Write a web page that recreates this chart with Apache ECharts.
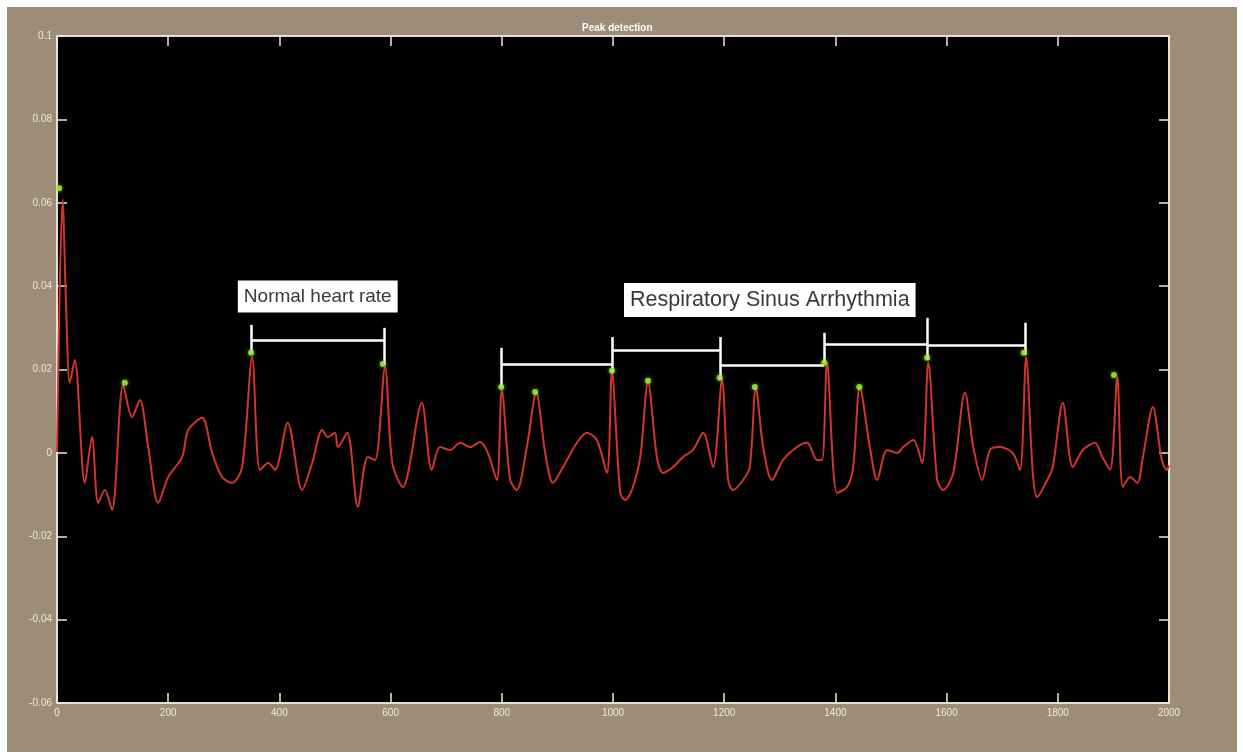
<!DOCTYPE html>
<html>
<head>
<meta charset="utf-8">
<title>Peak detection</title>
<script src="https://cdn.jsdelivr.net/npm/echarts@6/dist/echarts.min.js"></script>
<style>
	html, body { margin: 0; padding: 0; background: #fff; }
	#wrap { position: relative; width: 1243px; height: 755px; background: #fff; }
	#main { position: absolute; left: 7px; top: 7px; width: 1230px; height: 745px; background: #9c8c78; }
</style>
</head>
<body>
<div id="wrap"><div id="main"></div></div>
<script>
// signal (sample index, amplitude)
var sampleX = [0, 5, 10, 16, 23, 32, 50, 63, 74, 86, 99, 119, 135, 149, 164, 182, 200, 225, 236, 261,
	279, 297, 315, 333, 351, 365, 380, 392, 415, 441, 459, 477, 487, 500, 505, 522, 541, 559, 572, 590,
	603, 622, 656, 674, 689, 707, 725, 743, 761, 775, 791, 800, 815, 827, 845, 862, 878, 892, 910, 935,
	953, 971, 989, 998, 1013, 1022, 1034, 1049, 1063, 1079, 1090, 1108, 1126, 1144, 1162, 1180, 1196, 1207, 1216, 1234,
	1246, 1257, 1270, 1286, 1306, 1331, 1349, 1367, 1376, 1385, 1403, 1421, 1432, 1444, 1462, 1475, 1493, 1511, 1522, 1540,
	1556, 1567, 1583, 1594, 1612, 1633, 1648, 1664, 1678, 1696, 1719, 1732, 1743, 1755, 1763, 1781, 1791, 1809, 1827, 1845,
	1867, 1880, 1894, 1907, 1917, 1930, 1943, 1953, 1971, 1987, 1996, 2000];
var signalY = [0.0002, 0.040, 0.0607, 0.0367, 0.0168, 0.0223, -0.0072, 0.0038, -0.0120, -0.0089, -0.0137, 0.0163, 0.0086, 0.0127, 0.0014, -0.0120, -0.0058, -0.0010, 0.0055, 0.0084,
	0, -0.0058, -0.0072, -0.0034, 0.0230, -0.0041, -0.0024, -0.0041, 0.0072, -0.0089, -0.0024, 0.0055, 0.0038, 0.0048, 0.0014, 0.0048, -0.0129, -0.0010, -0.0017, 0.0206,
	-0.0024, -0.0082, 0.0120, -0.0041, 0.0014, 0.0007, 0.0024, 0.0014, 0.0026, 0, -0.0065, 0.0151, -0.0065, -0.0089, 0.0014, 0.0144, 0, -0.0072, -0.0034, 0.0024,
	0.0048, 0.0031, -0.0048, 0.0192, -0.0096, -0.0113, -0.0089, -0.0010, 0.0170, -0.0010, -0.0048, -0.0034, -0.0010, 0.0007, 0.0048, -0.0034, 0.0175, -0.0065, -0.0089, -0.0065,
	-0.0034, 0.0156, 0.0014, -0.0065, -0.0017, 0.0014, 0.0024, -0.0017, -0.0017, 0.0216, -0.0096, -0.0082, -0.0034, 0.0158, 0.0014, -0.0065, 0.0007, 0, 0.0014, 0.0031,
	-0.0024, 0.0216, -0.0065, -0.0089, -0.0048, 0.0144, 0.0014, -0.0065, 0.0007, 0.0014, 0, -0.0041, 0.0230, -0.0048, -0.0106, -0.0065, -0.0034, 0.0120, -0.0034, 0.0007,
	0.0024, -0.0010, -0.0041, 0.0182, -0.0082, -0.0058, -0.0072, -0.0010, 0.0110, -0.0017, -0.0041, -0.0030];

// detected peaks (green markers)
var peakX = [4, 122, 349, 586, 799, 860, 998, 1063, 1192, 1255, 1380, 1443, 1565, 1739, 1901];
var peakY = [0.0635, 0.0168, 0.0240, 0.0213, 0.0158, 0.0146, 0.0197, 0.0173, 0.0180, 0.0158, 0.0216, 0.0158, 0.0228, 0.0240, 0.0187];

// axis ticks
var xTicks = [0, 200, 400, 600, 800, 1000, 1200, 1400, 1600, 1800, 2000];
var yTicks = [-0.06, -0.04, -0.02, 0, 0.02, 0.04, 0.06, 0.08, 0.1];

// annotation brackets: vertical bars [x, top, bottom] and spans [x1, x2, y]
var bracketBars = [[349, 0.0307, 0.0240], [588, 0.0300, 0.0211],
	[799, 0.0252, 0.0156], [998, 0.0278, 0.0194], [1192, 0.0278, 0.0175],
	[1380, 0.0288, 0.0216], [1565, 0.0324, 0.0223], [1741, 0.0312, 0.0235]];
var bracketSpans = [[349, 588, 0.0271],
	[799, 998, 0.0213], [998, 1192, 0.0245], [1192, 1380, 0.0211],
	[1380, 1565, 0.0261], [1565, 1741, 0.0257]];

// annotation labels [text, x, y]
var notes = [['Normal heart rate', 469, 0.0375], ['Respiratory Sinus Arrhythmia', 1282, 0.0367]];

var axisCol = '#efe9da';
var chart = echarts.init(document.getElementById('main'));

var lineData = [];
sampleX.forEach(function (x, i) {
	lineData.push([x, signalY[i]]);
});
var peakData = [];
peakX.forEach(function (x, i) {
	peakData.push([x, peakY[i]]);
});

var markLines = [];
bracketBars.forEach(function (b) {
	markLines.push([{ coord: [b[0], b[1]] }, { coord: [b[0], b[2]] }]);
});
bracketSpans.forEach(function (s) {
	markLines.push([{ coord: [s[0], s[2]] }, { coord: [s[1], s[2]] }]);
});

// the second box in the picture uses a slightly larger type
var noteFont = [19, 21.5];
var notePad = [[7, 6, 6, 6], [6, 6, 6, 6]];
var markPoints = [];
notes.forEach(function (n, i) {
	markPoints.push({
		coord: [n[1], n[2]],
		symbol: 'rect',
		symbolSize: 1,
		itemStyle: { color: 'rgba(0,0,0,0)' },
		label: {
			show: true,
			position: 'inside',
			formatter: n[0],
			color: '#3a3a3a',
			fontSize: noteFont[i],
			fontFamily: 'Liberation Sans, Arial, sans-serif',
			backgroundColor: '#fff',
			padding: notePad[i]
		}
	});
});

function xAxisDef(pos, showLabel) {
	return {
		type: 'value',
		position: pos,
		min: xTicks[0],
		max: xTicks[xTicks.length - 1],
		interval: 200,
		axisLine: { show: true, onZero: false, lineStyle: { color: axisCol, width: 1.5 } },
		axisTick: { show: true, inside: true, length: 10, lineStyle: { color: axisCol, width: 1.5 } },
		axisLabel: {
			show: showLabel, color: axisCol, fontSize: 10, margin: 5,
			fontFamily: 'Liberation Sans, Arial, sans-serif',
			formatter: function (v) {
				return String(v);
			}
		},
		splitLine: { show: false }
	};
}

function yAxisDef(pos, showLabel) {
	return {
		type: 'value',
		position: pos,
		min: yTicks[0],
		max: yTicks[yTicks.length - 1],
		interval: 0.02,
		axisLine: { show: true, onZero: false, lineStyle: { color: axisCol, width: 1.5 } },
		axisTick: { show: true, inside: true, length: 10, lineStyle: { color: axisCol, width: 1.5 } },
		axisLabel: {
			show: showLabel, color: axisCol, fontSize: 10, margin: 5,
			fontFamily: 'Liberation Sans, Arial, sans-serif',
			formatter: function (v) {
				return String(Math.round(v * 100) / 100);
			}
		},
		splitLine: { show: false }
	};
}

var option = {
	animation: false,
	title: {
		text: 'Peak detection',
		left: 570,
		top: 11,
		textStyle: { color: '#fff', fontSize: 10, fontWeight: 'bold', fontFamily: 'Liberation Sans, Arial, sans-serif' }
	},
	grid: {
		left: 50,
		top: 29,
		right: 68,
		bottom: 49,
		show: true,
		backgroundColor: '#000',
		borderColor: axisCol,
		borderWidth: 1.5
	},
	xAxis: [xAxisDef('bottom', true), xAxisDef('top', false)],
	yAxis: [yAxisDef('left', true), yAxisDef('right', false)],
	series: [{
		type: 'line',
		data: lineData,
		xAxisIndex: 0,
		yAxisIndex: 0,
		showSymbol: false,
		smooth: 0.3,
		lineStyle: { color: '#d2352c', width: 2 },
		silent: true,
		markLine: {
			silent: true,
			symbol: ['none', 'none'],
			label: { show: false },
			lineStyle: { color: '#fff', width: 2.5, type: 'solid' },
			data: markLines
		},
		markPoint: {
			silent: true,
			data: markPoints
		}
	}, {
		type: 'scatter',
		data: peakData,
		xAxisIndex: 0,
		yAxisIndex: 0,
		symbolSize: 6,
		itemStyle: { color: '#a4f23c', shadowColor: '#7fd020', shadowBlur: 4 },
		silent: true,
		z: 5
	}]
};

chart.setOption(option);
</script>
</body>
</html>
